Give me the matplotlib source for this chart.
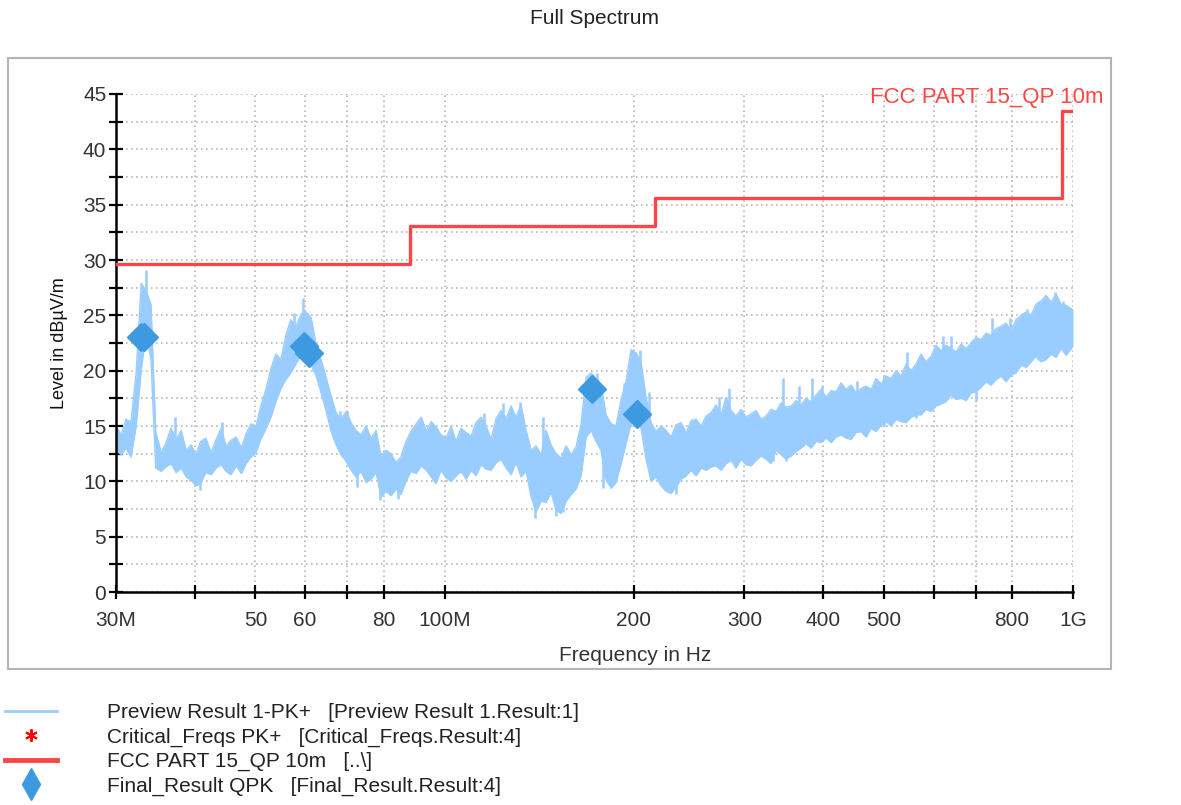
import matplotlib
matplotlib.use("Agg")
import matplotlib.pyplot as plt
from matplotlib.lines import Line2D
from matplotlib.patches import Rectangle
from matplotlib.ticker import FixedLocator, NullLocator
import numpy as np

# --- data (frequencies in MHz, levels in dBuV/m) ---
# preview trace, read as upper / lower edge of the noisy band
preview_f = [30.0, 30.6, 31.1, 31.7, 32.3, 32.9, 33.5, 34.1, 34.7, 35.4, 36.0, 36.7, 37.4, 38.1,
             38.8, 39.5, 40.2, 40.9, 41.7, 42.5, 43.3, 44.1, 44.9, 45.7, 46.6, 47.5, 48.3,
             49.2, 50.1, 51.0, 52.0, 53.0, 53.9, 54.9, 55.9, 56.9, 58.0, 59.1, 60.2, 61.3,
             62.4, 63.6, 64.7, 65.9, 67.2, 68.4, 69.7, 71.0, 72.3, 73.6, 75.0, 76.4, 77.8,
             79.2, 80.7, 82.2, 83.7, 85.2, 86.8, 88.4, 90.1, 91.8, 93.5, 95.2, 96.9, 98.7,
             100.6, 102.4, 104.3, 106.2, 108.2, 110.2, 112.2, 114.3, 116.4, 118.6, 120.8,
             123.0, 125.3, 127.6, 129.9, 132.3, 134.8, 137.3, 139.8, 142.4, 145.0, 147.7,
             150.4, 153.2, 156.1, 159.0, 161.9, 164.9, 168.0, 171.1, 174.2, 177.4, 180.7,
             184.1, 187.4, 190.9, 194.4, 198.0, 201.7, 205.4, 209.2, 213.1, 217.0, 221.0,
             225.1, 229.3, 233.5, 237.8, 242.3, 246.8, 251.3, 256.0, 260.7, 265.5, 270.4,
             275.4, 280.5, 285.7, 290.9, 296.3, 301.8, 307.4, 313.1, 318.9, 324.8, 330.8,
             336.9, 343.2, 349.5, 356.0, 362.5, 369.2, 376.0, 383.0, 390.1, 397.3, 404.7,
             412.2, 419.7, 427.5, 435.4, 443.5, 451.6, 460.0, 468.5, 477.2, 486.0, 495.0,
             504.1, 513.4, 522.9, 532.6, 542.5, 552.5, 562.7, 573.1, 583.7, 594.5, 605.4,
             616.6, 628.1, 639.7, 651.5, 663.6, 675.9, 688.4, 701.0, 714.0, 727.2, 740.7,
             754.3, 768.3, 782.6, 797.1, 811.6, 826.7, 842.0, 857.6, 873.4, 889.6, 906.0,
             922.8, 939.8, 957.2, 974.9, 1000.0]
preview_hi = [15.0, 14.2, 15.6, 15.4, 19.8, 27.9, 27.2, 26.0, 14.5, 12.6, 13.4, 14.8, 13.8, 14.6,
              12.8, 13.3, 12.4, 13.6, 13.9, 12.6, 13.8, 14.8, 13.2, 13.7, 14.0, 13.0, 14.3,
              15.2, 15.0, 16.8, 18.4, 20.3, 21.5, 21.0, 23.2, 24.6, 24.0, 25.1, 25.3, 24.8,
              22.5, 21.0, 19.5, 17.8, 16.2, 15.6, 16.3, 15.3, 14.6, 14.2, 15.0, 13.9, 14.6,
              12.3, 12.8, 12.5, 11.7, 12.2, 13.6, 14.5, 15.2, 15.8, 14.6, 15.4, 14.9, 14.2,
              13.9, 15.0, 13.6, 14.8, 14.4, 14.1, 15.3, 15.8, 15.0, 13.8, 15.7,
              16.4, 15.7, 16.8, 15.8, 16.9, 14.6, 12.8, 13.2, 12.4, 14.6, 13.3,
              12.5, 12.1, 13.2, 12.4, 13.1, 15.2, 19.4, 19.8, 19.3, 18.8, 16.0,
              15.2, 15.0, 17.4, 19.0, 21.9, 21.6, 20.8, 17.6, 15.3, 14.5, 15.0,
              14.6, 14.0, 15.1, 15.3, 14.4, 15.5, 15.6, 15.0, 15.9, 16.2, 16.9,
              16.0, 17.6, 16.4, 15.9, 16.5, 15.8, 16.1, 16.4, 15.6, 15.9, 16.5,
              16.3, 17.1, 16.7, 16.8, 17.3, 16.9, 17.5, 17.2, 17.8, 18.3, 17.6,
              18.2, 18.1, 18.9, 18.3, 18.7, 18.0, 18.4, 18.6, 18.3, 19.3, 18.8,
              19.5, 19.3, 20.0, 19.5, 20.6, 20.0, 20.6, 21.5, 20.8, 21.3, 22.3,
              21.8, 22.3, 22.0, 21.7, 22.4, 22.0, 22.5, 23.0, 22.8, 23.4, 23.2,
              23.8, 24.0, 24.3, 23.6, 24.6, 25.0, 25.3, 25.0, 26.0, 26.3, 26.8,
              26.2, 26.9, 26.0, 25.9, 25.5]
preview_lo = [12.8, 12.4, 13.0, 12.2, 15.0, 20.0, 23.5, 21.0, 11.2, 10.9, 11.3, 11.6, 10.8, 11.2,
              10.4, 10.1, 9.6, 9.8, 10.8, 10.6, 11.2, 11.5, 10.9, 10.6, 11.4, 10.7, 11.6,
              12.2, 12.6, 13.8, 14.8, 15.9, 17.2, 18.4, 19.2, 19.8, 20.6, 21.4, 21.0, 20.5,
              19.6, 18.0, 16.5, 14.6, 13.3, 12.4, 11.8, 11.0, 10.4, 10.9, 9.9, 10.2, 10.8,
              8.6, 9.1, 8.7, 9.3, 8.8, 10.0, 10.9, 10.7, 11.4, 11.0, 10.4, 9.8, 11.0,
              10.3, 10.0, 10.5, 10.9, 10.2, 11.0, 10.5, 11.5, 11.1, 11.0, 11.7,
              12.0, 11.2, 10.6, 11.7, 10.4, 10.9, 8.6, 7.2, 8.2, 8.1, 9.0,
              7.4, 7.1, 8.2, 8.8, 9.3, 10.5, 14.0, 14.6, 13.6, 12.8, 10.1,
              9.4, 9.9, 11.6, 13.4, 15.2, 15.4, 14.8, 12.0, 10.0, 10.4, 9.6,
              9.1, 8.9, 9.5, 10.2, 10.5, 11.0, 10.5, 11.2, 11.0, 11.3, 11.4,
              11.0, 11.6, 11.9, 11.2, 12.0, 11.5, 11.4, 11.9, 12.3, 12.0, 11.6,
              12.8, 12.4, 12.0, 12.3, 12.7, 13.0, 13.4, 13.0, 13.6, 13.5, 13.9,
              13.5, 14.0, 14.2, 13.9, 13.8, 14.4, 14.5, 14.0, 14.8, 14.5, 15.1,
              15.4, 15.0, 15.6, 15.4, 15.3, 15.8, 16.0, 16.0, 16.5, 16.3, 16.8,
              17.0, 17.2, 17.8, 17.4, 17.5, 17.3, 18.0, 18.1, 18.5, 19.0, 18.7,
              19.2, 19.5, 19.0, 19.6, 19.8, 20.5, 20.3, 20.8, 21.3, 20.8, 21.0,
              21.5, 21.2, 22.0, 21.4, 22.2]

# narrow spikes and dips of the preview trace
spike_f = [33.5, 37.3, 39.4, 40.8, 44.3, 57.6, 59.5, 68.2, 70.0, 72.6, 78.9, 84.2, 115.4,
           123.9, 131.6, 139.2, 143.4, 150.4, 154.2, 174.5, 178.7, 183.9, 193.1, 199.4,
           204.6, 211.5, 233.1, 273.4, 283.4, 333.5, 345.5, 349.5, 366.5, 384.4, 398.8,
           453.3, 500.3, 544.5, 562.7, 621.0, 639.6, 690.7, 701.0, 743.5, 794.2, 845.2,
           880.0, 936.4, 964.2]
spike_lo = [24.0, 12.0, 10.0, 9.2, 12.0, 22.0, 22.0, 13.0, 12.0, 9.5, 8.3, 8.4, 12.0,
            12.0, 12.0, 6.7, 10.0, 6.9, 7.2, 15.0, 9.4, 9.4, 13.0, 16.0,
            16.0, 14.0, 8.9, 12.0, 12.0, 11.8, 13.0, 11.8, 14.0, 14.0, 14.0,
            15.0, 15.0, 16.0, 15.7, 18.0, 18.0, 18.5, 17.3, 19.0, 20.0, 21.0,
            21.0, 22.0, 22.0]
spike_hi = [29.1, 15.8, 12.5, 12.0, 15.4, 25.2, 26.6, 16.4, 16.4, 12.0, 11.0, 11.0, 16.2,
            17.1, 17.2, 10.0, 15.8, 10.0, 10.0, 19.8, 13.0, 12.0, 18.9, 22.0,
            21.9, 18.1, 12.0, 17.6, 18.4, 14.0, 19.3, 14.0, 18.6, 19.3, 18.6,
            19.1, 19.6, 21.7, 17.5, 23.1, 23.1, 22.8, 19.0, 24.8, 24.8, 25.6,
            26.2, 27.1, 26.3]

limit_f = [30, 88, 216, 960, 1000]
limit_lv = [29.6, 33.1, 35.6, 43.5, 43.5]

final_f = [32.9, 33.3, 59.7, 60.8, 171.4, 202.3]
final_lv = [23.0, 23.0, 22.2, 21.6, 18.3, 16.1]

xtick_f = [30, 40, 50, 60, 70, 80, 100, 200, 300, 400, 500, 600, 700, 800, 1000]
xtick_lbl = ['30M', '', '50', '60', '', '80', '100M', '200', '300', '400', '500', '', '', '800', '1G']

c_prev = '#99ccff'
c_lim = '#ff4545'
c_final = '#3d9ae0'

plt.rcParams['font.family'] = ['Liberation Sans', 'DejaVu Sans']

fig = plt.figure(figsize=(11.81, 8.05), dpi=100)

fig.patches.append(Rectangle((8 / 1181, 136 / 805), 1103 / 1181, 611 / 805,
                             transform=fig.transFigure, fill=False,
                             edgecolor='#b4b4b4', lw=1.5))

ax = fig.add_axes([116 / 1181, 213 / 805, 957 / 1181, 498 / 805])
ax.set_xscale('log')
ax.set_xlim(30, 1000)
ax.set_ylim(0, 45)

ax.fill_between(preview_f, preview_lo, preview_hi, color=c_prev, lw=0, zorder=2)
ax.plot(preview_f, preview_hi, color=c_prev, lw=1.0, zorder=2)
ax.plot(preview_f, preview_lo, color=c_prev, lw=1.0, zorder=2)
ax.vlines(spike_f, spike_lo, spike_hi, color=c_prev, lw=1.8, zorder=2)

ax.step(limit_f, limit_lv, where='post', color=c_lim, lw=2.4, zorder=3)
ax.plot(final_f, final_lv, ls='none', marker='D', ms=14, color=c_final, zorder=4)

ax.xaxis.set_major_locator(FixedLocator(xtick_f))
ax.set_xticklabels(xtick_lbl)
ax.xaxis.set_minor_locator(NullLocator())
ax.set_yticks(np.arange(0, 46, 5))
ax.yaxis.set_minor_locator(FixedLocator(np.arange(2.5, 45, 5)))

for s in ['top', 'right']:
    ax.spines[s].set_visible(False)
for s in ['left', 'bottom']:
    ax.spines[s].set_linewidth(1.8)

ax.tick_params(axis='both', which='both', direction='inout', width=1.6,
               labelsize=15, colors='black', labelcolor='#333333')
ax.tick_params(axis='y', which='major', length=10, pad=2)
ax.tick_params(axis='y', which='minor', length=10)
ax.tick_params(axis='x', which='major', length=10, pad=9)

ax.grid(True, which='both', axis='y', ls=(0, (1, 2)), color='#b8b8b8', lw=1.2)
ax.grid(True, which='major', axis='x', ls=(0, (1, 2)), color='#b8b8b8', lw=1.2)
ax.set_axisbelow(True)

fig.text(0.503, 1 - 18 / 805, 'Full Spectrum', ha='center', va='center',
         fontsize=15, color='#222222')
fig.text(635 / 1181, 1 - 655 / 805, 'Frequency in Hz', ha='center', va='center',
         fontsize=15, color='#333333')
fig.text(60 / 1181, 1 - 343 / 805, 'Level in dB\u00b5V/m', ha='center', va='center',
         rotation=90, fontsize=13, color='#111111')
fig.text(870 / 1181, 1 - 97 / 805, 'FCC PART 15_QP 10m', ha='left', va='center',
         fontsize=16, color=c_lim)

handles = [
    Line2D([], [], color=c_prev, lw=2),
    Line2D([], [], ls='none', marker=(6, 2, 0), color='red', mec='red', ms=9, mew=1.4),
    Line2D([], [], color=c_lim, lw=3.5),
    Line2D([], [], ls='none', marker='d', color=c_final, ms=16),
]
labels = [
    'Preview Result 1-PK+   [Preview Result 1.Result:1]',
    'Critical_Freqs PK+   [Critical_Freqs.Result:4]',
    'FCC PART 15_QP 10m   [..\\]',
    'Final_Result QPK   [Final_Result.Result:4]',
]
fig.legend(handles, labels, loc='upper left', bbox_to_anchor=(5 / 1181, 1 - 703 / 805),
           frameon=False, fontsize=15, handlelength=2.5, handletextpad=2.4,
           labelspacing=0.26, borderpad=0, borderaxespad=0, labelcolor='#222222')

fig.savefig('out.png', dpi=100)
